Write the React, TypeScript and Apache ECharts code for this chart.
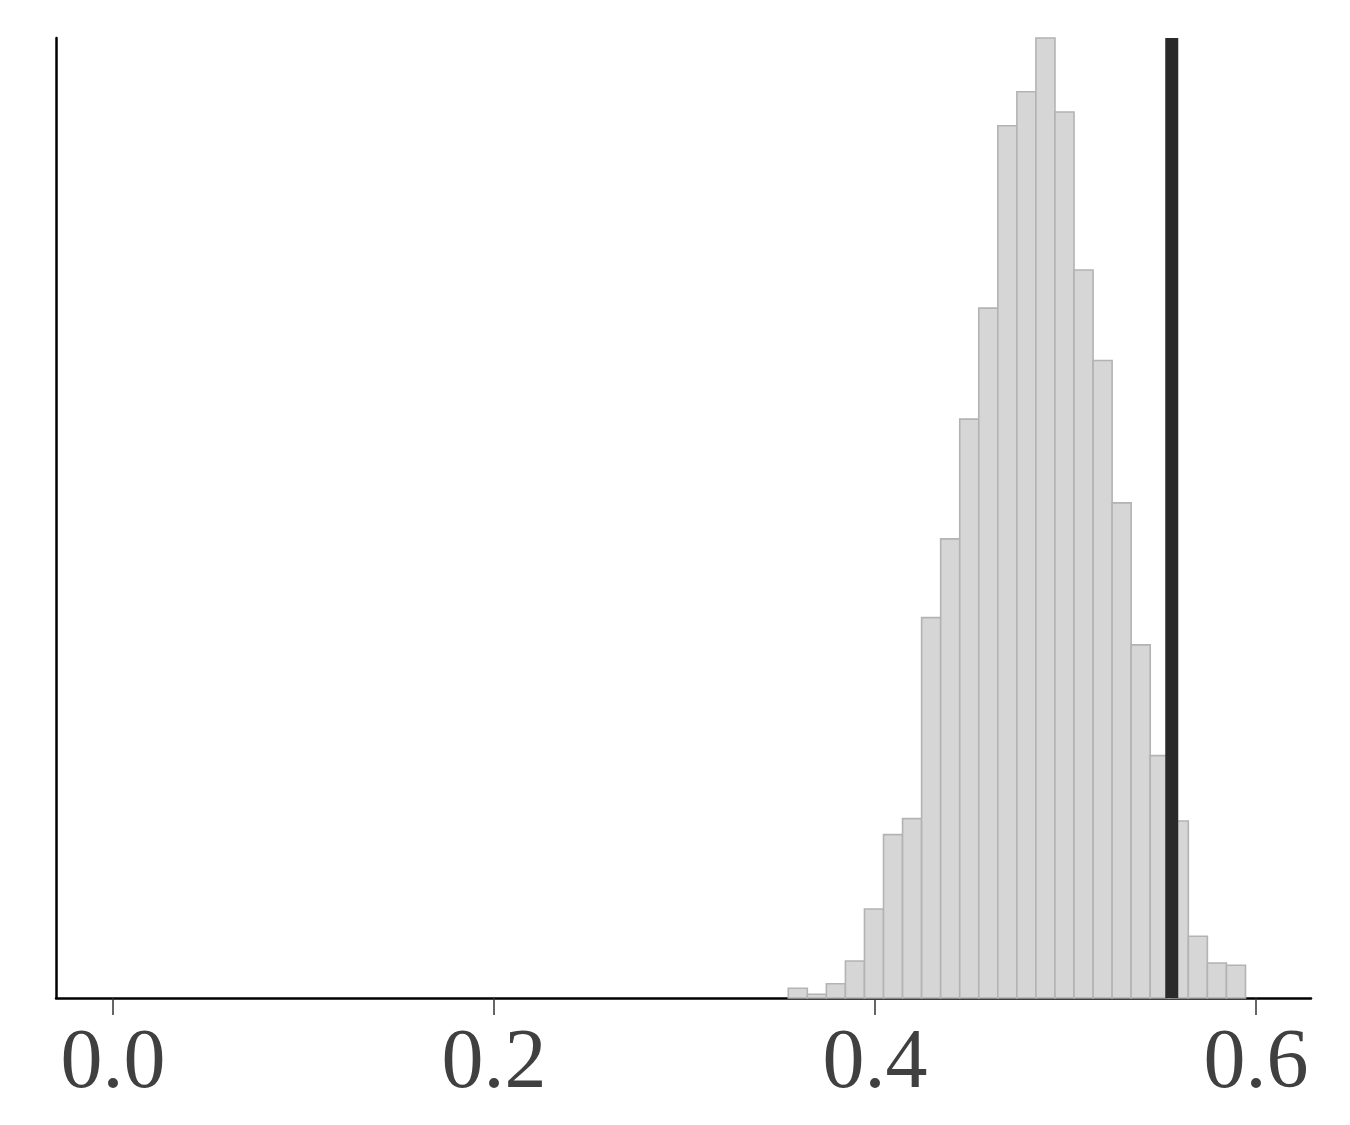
import React, { useEffect, useRef } from "react";
import * as echarts from "echarts";

// Histogram bin edges (x values) and bar heights (counts)
const binEdges = [
  0.3545, 0.3645, 0.3745, 0.3845, 0.3945, 0.4045, 0.4145, 0.4245, 0.4345,
  0.4445, 0.4545, 0.4645, 0.4745, 0.4845, 0.4945, 0.5045, 0.5145, 0.5245,
  0.5345, 0.5445, 0.5545, 0.5645, 0.5745, 0.5845, 0.5945,
];
const counts = [
  9.7, 3.7, 14.3, 37, 89, 163.3, 179.3, 380.3, 459, 578.7, 689.7, 872, 906,
  959.7, 885.7, 727.7, 637.3, 495, 353, 242.3, 177, 61.7, 35, 32.7,
];
const observedValue = 0.5558;
const tickValues = [0, 0.2, 0.4, 0.6];
const xMin = -0.0299;
const xMax = 0.6289;
const yMax = 959.7;

export default function App() {
  const ref = useRef<HTMLDivElement>(null);
  useEffect(() => {
    if (!ref.current) return;
    const chart = echarts.init(ref.current, null, { renderer: "svg" });
    const barData = counts.map((c, i) => [binEdges[i], binEdges[i + 1], c]);
    chart.setOption({
      animation: false,
      backgroundColor: "#ffffff",
      grid: { left: 56, top: 38, right: 39, bottom: 127, containLabel: false },
      xAxis: {
        type: "value",
        min: xMin,
        max: xMax,
        splitLine: { show: false },
        axisLine: { show: true, onZero: false, lineStyle: { color: "#000", width: 2.5 } },
        axisTick: {
          show: true,
          customValues: tickValues,
          length: 17,
          lineStyle: { color: "#333", width: 1.5 },
        },
        axisLabel: {
          show: true,
          customValues: tickValues,
          formatter: (v: number) => v.toFixed(1),
          fontFamily: "Liberation Serif, 'Times New Roman', serif",
          fontSize: 84,
          color: "#404040",
          margin: 18,
        },
      },
      yAxis: {
        type: "value",
        min: 0,
        max: yMax,
        splitLine: { show: false },
        axisLine: { show: true, onZero: false, lineStyle: { color: "#000", width: 2.5 } },
        axisTick: { show: false },
        axisLabel: { show: false },
      },
      series: [
        {
          type: "custom",
          data: barData,
          encode: { x: [0, 1], y: 2 },
          z: 2,
          renderItem: (params: any, api: any) => {
            const x0 = api.value(0);
            const x1 = api.value(1);
            const h = api.value(2);
            const p0 = api.coord([x0, 0]);
            const p1 = api.coord([x1, h]);
            return {
              type: "rect",
              shape: {
                x: p0[0],
                y: p1[1],
                width: p1[0] - p0[0],
                height: p0[1] - p1[1],
              },
              style: { fill: "#d6d6d6", stroke: "#b3b3b3", lineWidth: 1.6 },
            };
          },
        },
        {
          type: "line",
          data: [
            [observedValue, 0],
            [observedValue, yMax],
          ],
          symbol: "none",
          z: 3,
          lineStyle: { color: "#2a2a2a", width: 13, cap: "butt" },
        },
      ],
    });
    return () => chart.dispose();
  }, []);
  return (
    <div
      ref={ref}
      style={{ position: "fixed", left: 0, top: 0, width: 1350, height: 1125 }}
    />
  );
}
